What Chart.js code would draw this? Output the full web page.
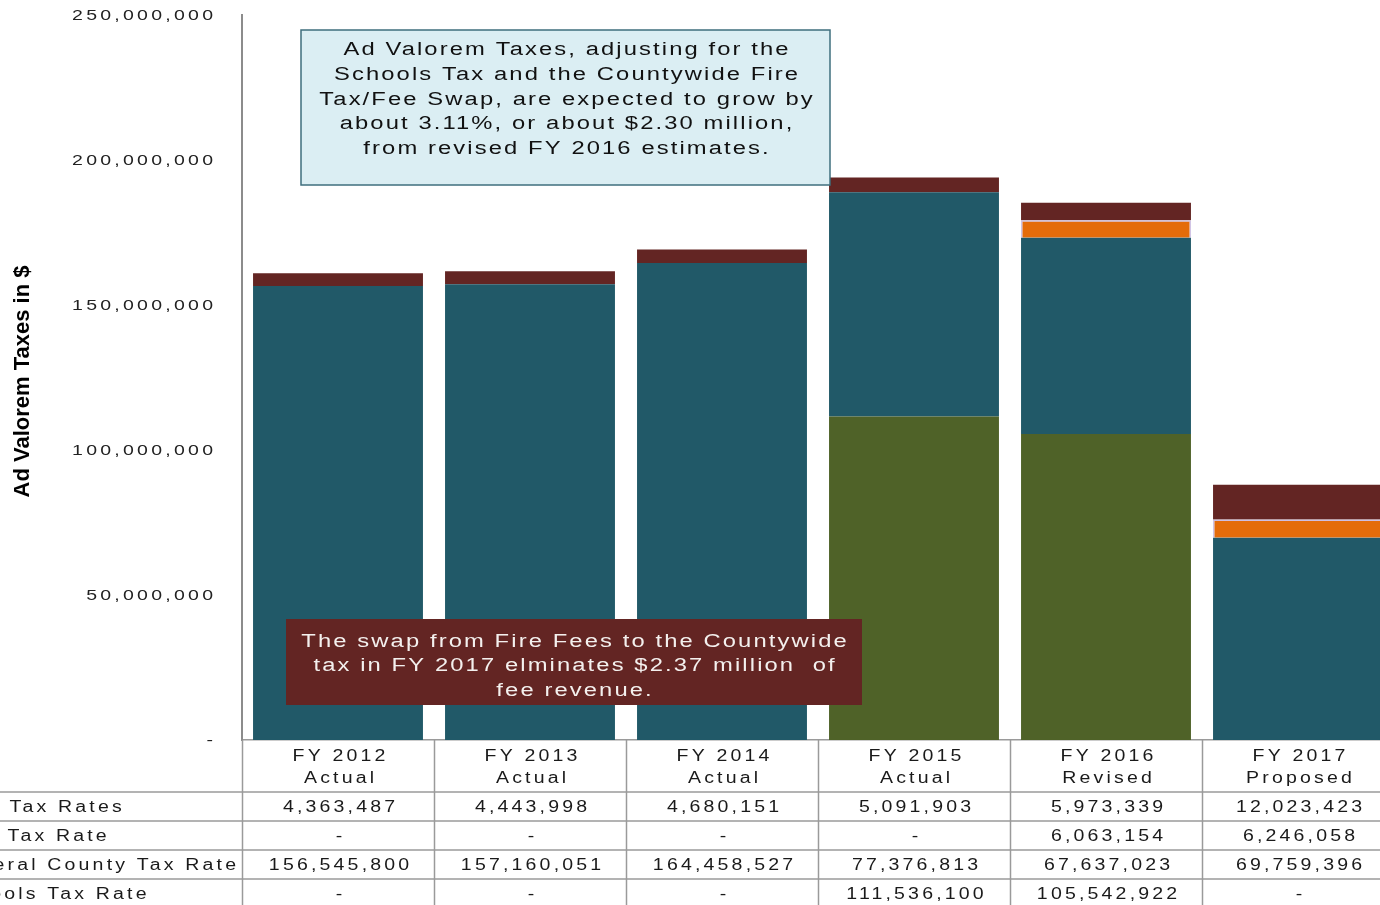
<!DOCTYPE html>
<html>
<head>
<meta charset="utf-8">
<script src="https://cdn.jsdelivr.net/npm/chart.js@4.4.1/dist/chart.umd.min.js"></script>
<style>
html, body { margin: 0; padding: 0; background: #fff; overflow: hidden; }
#wrap { position: relative; width: 1400px; height: 905px; }
</style>
</head>
<body>
<div id="wrap"><canvas id="taxChart"></canvas></div>
<script>
const YEARS = ['FY 2012', 'FY 2013', 'FY 2014', 'FY 2015', 'FY 2016', 'FY 2017'];
const STATUS = ['Actual', 'Actual', 'Actual', 'Actual', 'Revised', 'Proposed'];
const SCHOOLS = [0, 0, 0, 111536100, 105542922, 0];
const GENERAL = [156545800, 157160051, 164458527, 77376813, 67637023, 69759396];
const FIRE = [0, 0, 0, 0, 6063154, 6246058];
const OTHER = [4363487, 4443998, 4680151, 5091903, 5973339, 12023423];
const Y_MAX = 250000000;
const Y_STEP = 50000000;

const ROW_NAMES = ['Debt Tax Rates', 'EMS Tax Rate', 'General County Tax Rate', 'Schools Tax Rate'];
const ROW_VALUES = [OTHER, FIRE, GENERAL, SCHOOLS];

const NOTE_TOP = [
  'Ad Valorem Taxes, adjusting for the',
  'Schools Tax and the Countywide Fire',
  'Tax/Fee Swap, are expected to grow by',
  'about 3.11%, or about $2.30 million,',
  'from revised FY 2016 estimates.'
];
const NOTE_SWAP = [
  'The swap from Fire Fees to the Countywide',
  'tax in FY 2017 elminates $2.37 million  of',
  'fee revenue.'
];

const FONT = "'Liberation Sans', Arial, sans-serif";

function fmt(v) { return v === 0 ? '-' : v.toLocaleString('en-US'); }

// the source draws its text wide and loosely spaced, so stretch it sideways
function wideText(ctx, str, x, y, align, sx) {
  const sp = parseFloat(ctx.letterSpacing) || 0;
  const w = (ctx.measureText(str).width - sp) * sx;
  const left = align === 'center' ? x - w / 2 : align === 'right' ? x - w : x;
  ctx.save();
  ctx.translate(left, y);
  ctx.scale(sx, 1);
  ctx.textAlign = 'left';
  ctx.fillText(str, 0, 0);
  ctx.restore();
}

function noteBox(ctx, x, y, w, h, fill, stroke, color, lines, cx, firstY, lh) {
  ctx.save();
  ctx.fillStyle = fill;
  ctx.fillRect(x, y, w, h);
  if (stroke) {
    ctx.strokeStyle = stroke;
    ctx.lineWidth = 1.5;
    ctx.strokeRect(x, y, w, h);
  }
  ctx.fillStyle = color;
  ctx.font = '18px ' + FONT;
  ctx.letterSpacing = '1.6px';
  ctx.textBaseline = 'middle';
  lines.forEach((t, i) => wideText(ctx, t, cx, firstY + i * lh, 'center', 1.32));
  ctx.restore();
}

const tablePlugin = {
  id: 'dataTable',
  afterDraw(chart) {
    const { ctx, chartArea, scales: { x, y } } = chart;
    const step = x.getPixelForValue(1) - x.getPixelForValue(0);
    const top = chartArea.bottom;
    const lines = [top + 52, top + 81, top + 110, top + 139];
    ctx.save();
    ctx.strokeStyle = '#9a9a9a';
    ctx.lineWidth = 1.5;
    ctx.beginPath();
    lines.forEach(ly => { ctx.moveTo(0, ly); ctx.lineTo(chart.width, ly); });
    for (let i = 0; i <= YEARS.length; i++) {
      const bx = Math.round(x.getPixelForValue(i) - step / 2) + 0.5;
      ctx.moveTo(bx, top);
      ctx.lineTo(bx, chart.height);
    }
    ctx.stroke();

    // y tick labels
    ctx.fillStyle = '#222';
    ctx.font = '15px ' + FONT;
    ctx.letterSpacing = '2.5px';
    ctx.textBaseline = 'middle';
    y.ticks.forEach(t => {
      wideText(ctx, fmt(t.value), 213, y.getPixelForValue(t.value) + 1, 'right', 1.3);
    });

    // data table
    ctx.fillStyle = '#1a1a1a';
    ctx.font = '16px ' + FONT;
    ctx.letterSpacing = '2.6px';
    YEARS.forEach((yr, i) => {
      const cx = x.getPixelForValue(i) + 1;
      wideText(ctx, yr, cx, top + 17, 'center', 1.22);
      wideText(ctx, STATUS[i], cx, top + 39, 'center', 1.22);
      ROW_VALUES.forEach((vals, r) => {
        wideText(ctx, fmt(vals[i]), cx, lines[r] + 16, 'center', 1.22);
      });
    });

    // row labels, the left column runs past the picture edge
    const sp = parseFloat(ctx.letterSpacing);
    const x0 = 236 - (ctx.measureText(ROW_NAMES[2]).width - sp) * 1.22;
    ROW_NAMES.forEach((name, r) => wideText(ctx, name, x0, lines[r] + 16, 'left', 1.22));

    // y axis title
    ctx.letterSpacing = '0px';
    ctx.translate(23, (chartArea.top + chartArea.bottom) / 2 + 4);
    ctx.rotate(-Math.PI / 2);
    ctx.textAlign = 'center';
    ctx.font = 'bold 22px ' + FONT;
    ctx.fillStyle = '#000';
    ctx.fillText('Ad Valorem Taxes in $', 0, 0);
    ctx.restore();

    noteBox(ctx, 301, 30, 529, 155, '#dbeef3', '#3f6f7e', '#111', NOTE_TOP, 566, 50, 24.8);
    noteBox(ctx, 286, 619, 576, 86, '#632523', null, '#f4f0ee', NOTE_SWAP, 574, 642, 24.5);
  }
};

new Chart(document.getElementById('taxChart'), {
  type: 'bar',
  data: {
    labels: YEARS,
    datasets: [
      { label: ROW_NAMES[3], data: SCHOOLS, backgroundColor: '#4f6228', borderWidth: 0 },
      { label: ROW_NAMES[2], data: GENERAL, backgroundColor: '#215968', borderWidth: 0 },
      { label: ROW_NAMES[1], data: FIRE, backgroundColor: '#e46c0a', borderColor: '#cdbfe3', borderWidth: 1.5 },
      { label: ROW_NAMES[0], data: OTHER, backgroundColor: '#632523', borderWidth: 0 }
    ]
  },
  options: {
    responsive: true,
    maintainAspectRatio: false,
    animation: false,
    categoryPercentage: 1,
    barPercentage: 0.885,
    layout: { padding: { top: 15, right: 6, bottom: 0, left: 0 } },
    plugins: {
      legend: { display: false },
      tooltip: { enabled: false }
    },
    scales: {
      x: {
        stacked: true,
        grid: { display: false },
        border: { display: true, color: '#9a9a9a', width: 1.5 },
        ticks: { display: false },
        afterFit: s => { s.height = 165; }
      },
      y: {
        stacked: true,
        min: 0,
        max: Y_MAX,
        grid: { display: false },
        border: { display: true, color: '#8c8c8c', width: 2 },
        ticks: { display: false, stepSize: Y_STEP },
        afterFit: s => { s.width = 242; s.paddingTop = 0; s.paddingBottom = 0; }
      }
    }
  },
  plugins: [tablePlugin]
});
</script>
</body>
</html>
